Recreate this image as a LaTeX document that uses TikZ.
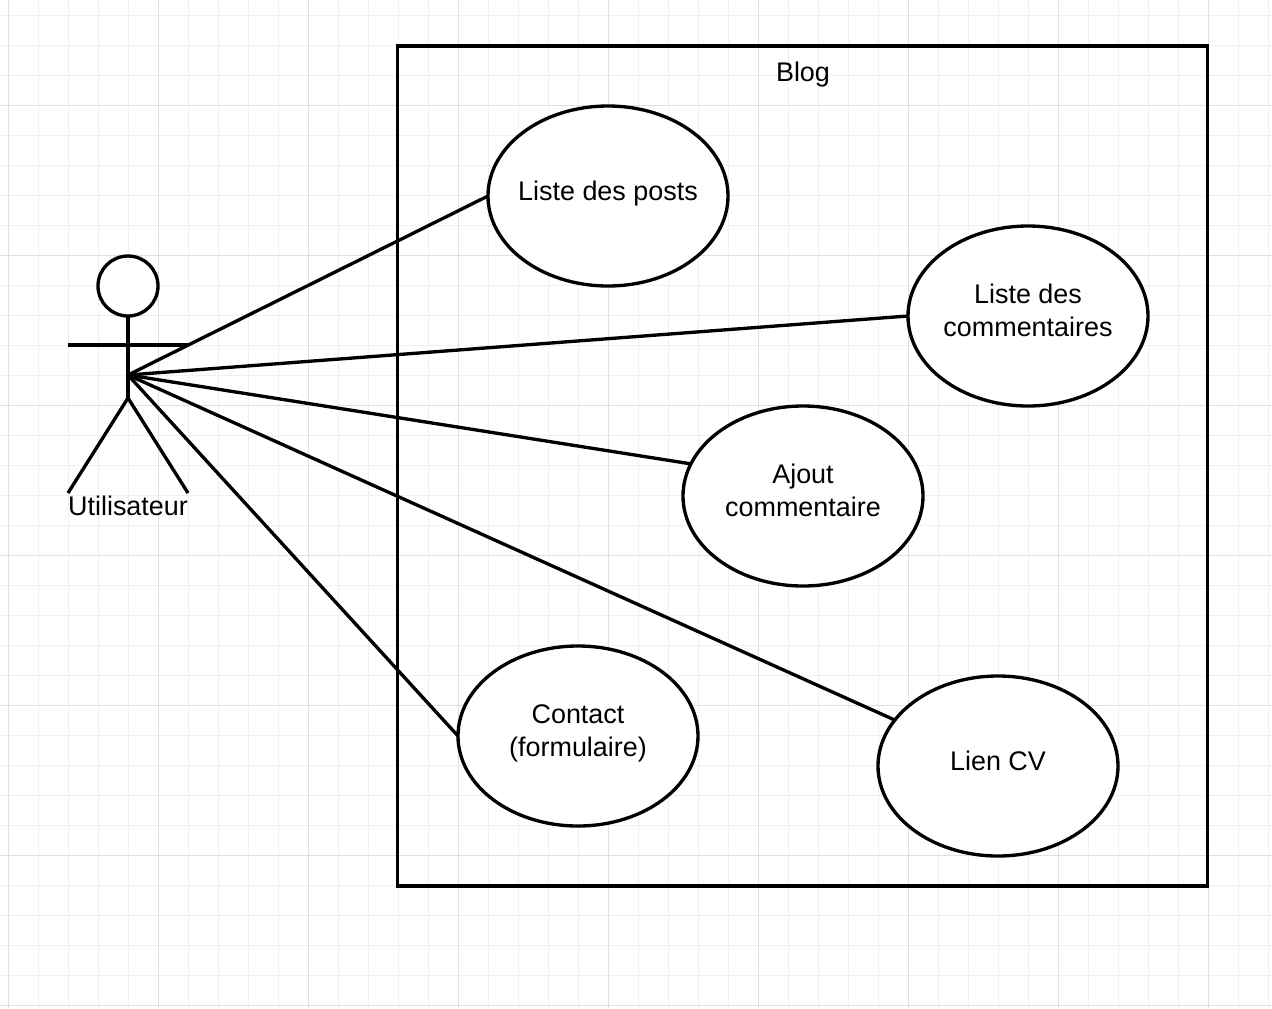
\documentclass[tikz,border=0pt]{standalone}
\usepackage{fontspec}
\setmainfont{Liberation Sans}
\usetikzlibrary{shapes.geometric}
\definecolor{gridminor}{HTML}{F0F0F0}
\definecolor{gridmajor}{HTML}{E0E0E0}
\tikzset{
    stroke/.style={line width=2.5pt, black},
    usecase/.style={ellipse, draw, stroke, fill=white, minimum width=180pt, minimum height=135pt, inner sep=0pt, outer sep=0pt},
    casetext/.style={font=\fontsize{20.2pt}{24.75pt}\selectfont, align=center, inner sep=0pt},
}
\begin{document}
\begin{tikzpicture}[x=0.75pt, y=-0.75pt]
            \useasboundingbox (0,0) rectangle (1272,1008);
            \fill [white] (0,0) rectangle (1272,1008);
            % grid
            \foreach \i in {0,...,42} {
                \draw [gridminor, line width=0.75pt] (8+30*\i,0) to (8+30*\i,1008);
            }
            \foreach \j in {0,...,33} {
                \draw [gridminor, line width=0.75pt] (0,15+30*\j) to (1272,15+30*\j);
            }
            \foreach \i in {0,...,8} {
                \draw [gridmajor, line width=0.75pt] (8+150*\i,0) to (8+150*\i,1008);
            }
            \foreach \j in {0,...,6} {
                \draw [gridmajor, line width=0.75pt] (0,105+150*\j) to (1272,105+150*\j);
            }
            % system box
            \node [draw, stroke, minimum width=607.5pt, minimum height=630pt, inner sep=0pt, outer sep=0pt] (blog) at (802.6,466) {};
            \node [casetext] (blogtext) at (803,75) {Blog};
            % actor
            \node [circle, draw, stroke, minimum size=45pt, inner sep=0pt, outer sep=0pt, fill=white] (head) at (128,286) {};
            \coordinate (hip) at (128,398);
            \coordinate (waist) at (128,375);
            \coordinate (armL) at (68,345);
            \coordinate (armR) at (188,345);
            \coordinate (footL) at (68,493);
            \coordinate (footR) at (188,493);
            \draw [stroke] (head.south) to (hip);
            \draw [stroke] (armL) to (armR);
            \draw [stroke] (footL) to (hip) to (footR);
            \node [casetext] (actor) at (128,505.5) {Utilisateur};
            % use cases
            \node [usecase, label={[casetext, yshift=1.5pt]center:Liste des posts}] (posts) at (608,196) {};
            \node [usecase, label={[casetext, yshift=4.5pt]center:Liste des\\commentaires}] (comments) at (1028,316) {};
            \node [usecase, label={[casetext, yshift=4.5pt]center:Ajout\\commentaire}] (ajout) at (803,496) {};
            \node [usecase, label={[casetext, yshift=2.25pt]center:Contact\\(formulaire)}] (contact) at (578,736) {};
            \node [usecase, label={[casetext, yshift=3.75pt]center:Lien CV}] (cv) at (998,766) {};
            % links
            \draw [stroke, line cap=round] (waist) to (posts.west);
            \draw [stroke, line cap=round] (waist) to (comments.west);
            \draw [stroke, line cap=round] (waist) to (ajout.164);
            \draw [stroke, line cap=round] (waist) to (contact.west);
            \draw [stroke, line cap=round] (waist) to (cv.156);
        \end{tikzpicture}
\end{document}
